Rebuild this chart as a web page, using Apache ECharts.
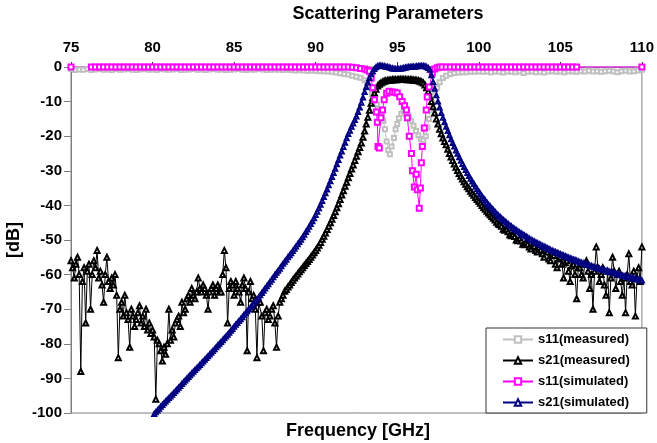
<!DOCTYPE html>
<html>
<head>
<meta charset="utf-8">
<script src="https://cdn.jsdelivr.net/npm/echarts@6/dist/echarts.min.js"></script>
<style>
  html, body { margin: 0; padding: 0; background: #fff; }
  #chart { width: 657px; height: 443px; }
</style>
</head>
<body>
<div id="chart"></div>
<script>
// axis ticks
const xTicks = [75, 80, 85, 90, 95, 100, 105, 110]
const yTicks = [-100, -90, -80, -70, -60, -50, -40, -30, -20, -10, 0]

// s11 measured: flat part 75..90.75 every 0.25 GHz, passband points, flat part 98.75..110
const s11MeasLeftStart = 75
const s11MeasLeftDb = [
  -0.6, -0.9, -0.7, -0.8, -0.6, -0.9, -0.7, -0.6, -0.8, -0.7,
  -0.9, -0.6, -0.8, -0.7, -0.6, -0.8, -0.9, -0.7, -0.6, -0.8,
  -0.7, -0.9, -0.6, -0.7, -0.8, -0.7, -0.6, -0.9, -0.8, -0.7,
  -0.6, -0.8, -0.7, -0.9, -0.7, -0.6, -0.8, -0.7, -0.9, -0.8,
  -0.7, -0.6, -0.8, -0.9, -0.7, -0.8, -0.6, -0.7, -0.9, -0.8,
  -0.7, -0.8, -0.9, -0.8, -0.9, -1.0, -0.9, -1.0, -1.1, -1.0,
  -1.1, -1.2, -1.2, -1.3
]
const s11MeasBandFreq = [
  91.0, 91.25, 91.5, 91.75, 92.0, 92.25, 92.5, 92.75, 93.0, 93.15,
  93.3, 93.45, 93.6, 93.75, 93.9, 94.05, 94.15, 94.25, 94.35, 94.45,
  94.55, 94.65, 94.8, 94.9, 95.0, 95.1, 95.25, 95.4, 95.55, 95.7,
  95.85, 96.0, 96.15, 96.3, 96.45, 96.6, 96.75, 96.85, 96.95, 97.05,
  97.15, 97.3, 97.45, 97.6, 97.8, 98.0, 98.25, 98.5
]
const s11MeasBandDb = [
  -1.4, -1.6, -1.8, -2.0, -2.2, -2.5, -2.8, -3.1, -3.8, -4.6,
  -6, -7.8, -9.2, -10.8, -12.2, -13.9, -15.5, -18, -21.5, -24,
  -25.2, -23, -20.5, -18, -16.5, -14.8, -13.5, -12.8, -13, -14,
  -15.5, -17, -18.5, -19.8, -20.8, -21.2, -20, -17.5, -15, -12.5,
  -10.5, -8, -6, -4.4, -3.2, -2.5, -2.0, -1.7
]
const s11MeasRightStart = 98.75
const s11MeasRightDb = [
  -1.6, -1.5, -1.5, -1.4, -1.4, -1.3, -1.4, -1.3, -1.5, -1.3,
  -1.4, -1.6, -1.3, -1.4, -1.5, -1.3, -1.7, -1.4, -1.3, -1.5,
  -1.4, -1.6, -1.3, -1.2, -1.4, -1.3, -1.5, -1.2, -1.3, -1.4,
  -1.2, -1.3, -1.1, -1.3, -1.2, -1.4, -1.2, -1.1, -1.3, -1.5,
  -1.2, -1.1, -1.3, -1.2, -1.0, -0.8
]
const flatStep = 0.25

// s21 measured: 75..110 every 0.1 GHz (one row per GHz)
const s21MeasStart = 75
const s21MeasStep = 0.1
const s21MeasDb = [
  -56, -58, -61, -57, -55, -60, -88, -62, -58, -74,
  -59, -57, -70, -60, -56, -58, -53, -61, -59, -63,
  -68, -60, -55, -62, -64, -61, -63, -60, -66, -84,
  -70, -68, -72, -66, -71, -73, -81, -70, -72, -75,
  -73, -71, -69, -74, -72, -75, -70, -76, -74, -77,
  -76, -78, -96, -79, -80, -82, -85, -81, -83, -80,
  -70, -79, -76, -78, -74, -73, -72, -75, -68, -71,
  -70, -67, -66, -68, -64, -66, -67, -65, -61, -64,
  -65, -63, -64, -66, -70, -65, -64, -63, -66, -64,
  -63, -65, -65, -60, -53, -58, -74, -64, -62, -63,
  -66, -62, -64, -65, -68, -63, -61, -64, -82, -65,
  -62, -67, -66, -70, -84, -68, -68, -72, -82, -71,
  -70, -73, -72, -70, -69, -74, -81, -72, -68, -67,
  -66, -64.8, -64.3, -63.6, -63.0, -62.3, -61.6, -61.0, -60.4, -59.8,
  -59.2, -58.6, -58.0, -57.4, -56.8, -56.2, -55.6, -55.0, -54.3, -53.7,
  -53.0, -52.3, -51.5, -50.7, -49.8, -48.9, -48.0, -47.0, -46.0, -45.0,
  -44.0, -42.9, -41.8, -40.7, -39.5, -38.3, -37.0, -35.8, -34.5, -33.3,
  -32.0, -30.8, -29.5, -28.3, -27.0, -25.8, -24.5, -23.3, -22.0, -20.3,
  -18.5, -16.5, -14.5, -12.5, -10.5, -8.9, -7.5, -6.4, -5.5, -5.0,
  -4.6, -4.3, -4.1, -4.0, -3.9, -3.8, -3.8, -3.7, -3.7, -3.7,
  -3.7, -3.6, -3.6, -3.6, -3.6, -3.6, -3.7, -3.7, -3.7, -3.7,
  -3.8, -3.8, -3.9, -4.0, -4.1, -4.3, -4.6, -5.2, -6.0, -7.1,
  -8.5, -10.0, -11.5, -13.3, -15.0, -16.5, -18.0, -19.3, -20.5, -21.5,
  -22.5, -23.8, -25.0, -26.0, -27.0, -28.0, -29.0, -29.9, -30.8, -31.6,
  -32.4, -33.2, -33.9, -34.6, -35.2, -35.9, -36.5, -37.1, -37.7, -38.3,
  -38.8, -39.4, -40.0, -40.6, -41.1, -41.7, -42.2, -42.7, -43.2, -43.7,
  -44.2, -44.9, -45.4, -45.6, -46.0, -46.9, -47.2, -47.0, -47.6, -48.5,
  -48.8, -48.4, -49.0, -50.0, -50.2, -49.6, -50.3, -51.2, -51.4, -50.8,
  -51.2, -52.0, -52.6, -51.5, -51.8, -53.0, -53.5, -52.2, -52.8, -54.0,
  -55, -53, -53.5, -55.5, -56, -54, -54.5, -57, -58, -55.5,
  -55, -57, -61, -56.5, -56, -59, -62, -57.5, -57, -60,
  -67, -58, -58, -60, -61, -57, -56, -59, -64, -60,
  -70, -59, -52, -58, -62, -60, -58, -63, -66, -59,
  -71, -61, -55, -59, -64, -60, -59, -62, -66, -61,
  -71, -60, -54, -62, -63, -59, -72, -61, -58, -62,
  -52
]

// s11 simulated: end points, flat 76.25..93 and 97.75..106 every 0.25 GHz, passband points
const s11SimEdgeFreq = [75, 110]
const s11SimEdgeDb = [0, 0]
const s11SimLeftStart = 76.25
const s11SimLeftDb = [
  0, 0, 0, 0, 0, 0, 0, 0, 0, 0,
  0, 0, 0, 0, 0, 0, 0, 0, 0, 0,
  0, 0, 0, 0, 0, 0, 0, 0, 0, 0,
  0, 0, 0, 0, 0, 0, 0, 0, 0, 0,
  0, 0, 0, 0, 0, 0, 0, 0, 0, 0,
  0, 0, 0, 0, 0, 0, 0, 0, 0, 0,
  0, 0, 0, 0, -0.1, -0.2, -0.4, -0.6
]
const s11SimBandFreq = [
  93.15, 93.3, 93.4, 93.5, 93.6, 93.72, 93.78, 93.82, 93.9, 94.0,
  94.1, 94.2, 94.35, 94.5, 94.7, 94.85, 95.0, 95.15, 95.3, 95.45,
  95.56, 95.62, 95.74, 95.87, 95.93, 96.05, 96.17, 96.23, 96.35, 96.42,
  96.48, 96.54, 96.66, 96.78, 96.84, 96.97, 97.15, 97.3, 97.45, 97.6
]
const s11SimBandDb = [
  -0.9, -1.2, -3.2, -6, -9.5, -13, -16, -23, -23.4, -14.7,
  -12.4, -9.5, -7.6, -7.0, -7.2, -7.3, -7.5, -8.6, -10, -11.2,
  -12.4, -14.7, -20, -25, -30, -34.7, -31, -35.5, -40.8, -35,
  -27.7, -23, -17.6, -12.4, -8.7, -5.8, -1.8, -0.6, -0.2, 0
]
const s11SimRightStart = 97.75
const s11SimRightDb = [
  0, 0, 0, 0, 0, 0, 0, 0, 0, 0,
  0, 0, 0, 0, 0, 0, 0, 0, 0, 0,
  0, 0, 0, 0, 0, 0, 0, 0, 0, 0,
  0, 0, 0, 0
]

// s21 simulated: 80.1..110 every 0.1 GHz
const s21SimStart = 80.1
const s21SimStep = 0.1
const s21SimDb = [
  -100.3, -99.8, -99.3, -98.8, -98.2, -97.7, -97.2, -96.7, -96.2, -95.7,
  -95.2, -94.7, -94.2, -93.7, -93.2, -92.7, -92.2, -91.6, -91.1, -90.6,
  -90.1, -89.6, -89.1, -88.6, -88.1, -87.6, -87.1, -86.6, -86.1, -85.6,
  -85.1, -84.6, -84.1, -83.6, -83.1, -82.6, -82.1, -81.6, -81.0, -80.5,
  -80.0, -79.5, -79.0, -78.4, -77.9, -77.4, -76.8, -76.2, -75.7, -75.1,
  -74.5, -74.0, -73.4, -72.9, -72.3, -71.7, -71.2, -70.6, -70.1, -69.5,
  -68.9, -68.4, -67.8, -67.2, -66.6, -66.0, -65.3, -64.7, -64.0, -63.4,
  -62.8, -62.1, -61.5, -60.8, -60.1, -59.5, -58.9, -58.3, -57.6, -56.9,
  -56.3, -55.7, -55.0, -54.4, -53.8, -53.2, -52.5, -51.9, -51.2, -50.6,
  -49.9, -49.2, -48.5, -47.7, -47.0, -46.2, -45.4, -44.6, -43.7, -42.8,
  -41.8, -40.8, -39.8, -38.7, -37.6, -36.5, -35.4, -34.2, -33.0, -31.8,
  -30.6, -29.4, -28.1, -26.9, -25.6, -24.4, -23.1, -21.9, -20.6, -19.4,
  -18.4, -17.3, -16.3, -15.3, -14.3, -13.0, -11.7, -10.3, -8.8, -7.2,
  -5.8, -4.5, -3.2, -2.1, -1.3, -0.6, -0.1, 0.2, 0.4, 0.4,
  0.3, 0.2, 0.1, 0, -0.1, -0.3, -0.4, -0.5, -0.6, -0.6,
  -0.6, -0.5, -0.4, -0.3, -0.2, -0.1, 0, 0, 0.1, 0.1,
  0.1, 0.2, 0.2, 0.3, 0.3, 0.3, 0.2, 0, -0.3, -0.8,
  -2.4, -4.3, -6.3, -8.2, -10.0, -11.7, -13.3, -14.7, -16.0, -17.3,
  -18.5, -19.7, -20.9, -22.0, -23.0, -24.1, -25.1, -26.1, -27.1, -28.0,
  -28.9, -29.8, -30.6, -31.5, -32.3, -33.1, -33.8, -34.6, -35.3, -36.0,
  -36.7, -37.4, -38.0, -38.6, -39.2, -39.8, -40.3, -40.9, -41.4, -41.9,
  -42.4, -42.9, -43.3, -43.8, -44.2, -44.6, -45.0, -45.4, -45.8, -46.1,
  -46.5, -46.8, -47.2, -47.5, -47.8, -48.1, -48.4, -48.7, -49.0, -49.3,
  -49.6, -49.9, -50.2, -50.4, -50.7, -50.9, -51.2, -51.4, -51.7, -51.9,
  -52.1, -52.4, -52.6, -52.9, -53.1, -53.3, -53.5, -53.7, -53.9, -54.1,
  -54.3, -54.5, -54.7, -54.9, -55.1, -55.3, -55.5, -55.7, -55.8, -56.0,
  -56.2, -56.4, -56.6, -56.7, -56.9, -57.1, -57.2, -57.4, -57.5, -57.7,
  -57.9, -58.0, -58.2, -58.3, -58.5, -58.6, -58.7, -58.9, -59.0, -59.2,
  -59.3, -59.4, -59.6, -59.7, -59.9, -60.0, -60.1, -60.3, -60.4, -60.5,
  -60.6, -60.7, -60.9, -61.0, -61.1, -61.2, -61.3, -61.5, -61.6, -61.7
]

const FONT = 'Arial, "Liberation Sans", sans-serif'
const AXIS_COLOR = '#808080'

// frequency grid for the evenly swept parts
function sweep (start, step, count) {
  const out = []
  for (let i = 0; i < count; i++) {
    out.push(+(start + i * step).toFixed(3))
  }
  return out
}
function pairs (freq, db) {
  return freq.map((f, i) => [f, db[i]])
}

const s11Meas = [].concat(
  pairs(sweep(s11MeasLeftStart, flatStep, s11MeasLeftDb.length), s11MeasLeftDb),
  pairs(s11MeasBandFreq, s11MeasBandDb),
  pairs(sweep(s11MeasRightStart, flatStep, s11MeasRightDb.length), s11MeasRightDb)
)
const s21Meas = pairs(sweep(s21MeasStart, s21MeasStep, s21MeasDb.length), s21MeasDb)
const s11Sim = [].concat(
  [[s11SimEdgeFreq[0], s11SimEdgeDb[0]]],
  pairs(sweep(s11SimLeftStart, flatStep, s11SimLeftDb.length), s11SimLeftDb),
  pairs(s11SimBandFreq, s11SimBandDb),
  pairs(sweep(s11SimRightStart, flatStep, s11SimRightDb.length), s11SimRightDb),
  [[s11SimEdgeFreq[1], s11SimEdgeDb[1]]]
)
const s21Sim = pairs(sweep(s21SimStart, s21SimStep, s21SimDb.length), s21SimDb)

function lineSeries (name, data, color, symbol, size) {
  return {
    name,
    type: 'line',
    data,
    symbol,
    symbolSize: size,
    showAllSymbol: true,
    clip: false,
    itemStyle: { color, borderWidth: 1 },
    lineStyle: { color, width: 1 },
    emphasis: { disabled: true }
  }
}

const chart = echarts.init(document.getElementById('chart'), null, { renderer: 'canvas' })
chart.setOption({
  animation: false,
  backgroundColor: '#fff',
  grid: {
    left: 71,
    right: 14,
    top: 67,
    bottom: 30,
    show: true,
    borderColor: AXIS_COLOR,
    borderWidth: 1
  },
  graphic: [
    {
      type: 'text', x: 388, y: 14,
      style: { text: 'Scattering Parameters', font: 'bold 18px ' + FONT, fill: '#000', textAlign: 'center', textVerticalAlign: 'middle' }
    },
    {
      type: 'text', x: 358, y: 431,
      style: { text: 'Frequency [GHz]', font: 'bold 18px ' + FONT, fill: '#000', textAlign: 'center', textVerticalAlign: 'middle' }
    },
    {
      type: 'text', x: 14, y: 240, rotation: Math.PI / 2,
      style: { text: '[dB]', font: 'bold 18px ' + FONT, fill: '#000', textAlign: 'center', textVerticalAlign: 'middle' }
    }
  ],
  legend: {
    orient: 'vertical',
    left: 486,
    top: 328,
    padding: [5, 17, 4, 16],
    itemGap: 8,
    itemWidth: 30,
    itemHeight: 8,
    backgroundColor: '#fff',
    borderColor: '#333',
    borderWidth: 1,
    textStyle: { fontFamily: FONT, fontWeight: 'bold', fontSize: 13, color: '#000' },
    data: ['s11(measured)', 's21(measured)', 's11(simulated)', 's21(simulated)']
  },
  xAxis: [
    {
      type: 'value',
      position: 'top',
      min: xTicks[0],
      max: xTicks[xTicks.length - 1],
      interval: xTicks[1] - xTicks[0],
      axisLine: { show: true, onZero: false, lineStyle: { color: AXIS_COLOR } },
      axisTick: { show: true, length: 5, lineStyle: { color: '#333' } },
      axisLabel: { margin: 12, color: '#000', fontFamily: FONT, fontWeight: 'bold', fontSize: 15 },
      splitLine: { show: false }
    },
    {
      type: 'value',
      position: 'top',
      min: xTicks[0],
      max: xTicks[xTicks.length - 1],
      interval: xTicks[1] - xTicks[0],
      axisLine: { show: false },
      axisTick: { show: true, inside: true, length: 5, lineStyle: { color: '#333' } },
      axisLabel: { show: false },
      splitLine: { show: false }
    }
  ],
  yAxis: {
    type: 'value',
    min: yTicks[0],
    max: yTicks[yTicks.length - 1],
    interval: yTicks[1] - yTicks[0],
    axisLine: { show: true, onZero: false, lineStyle: { color: AXIS_COLOR } },
    axisTick: { show: true, length: 7, lineStyle: { color: AXIS_COLOR } },
    axisLabel: { margin: 9, color: '#000', fontFamily: FONT, fontWeight: 'bold', fontSize: 15 },
    splitLine: { show: false }
  },
  series: [
    lineSeries('s11(measured)', s11Meas, '#c0c0c0', 'emptyRect', 4),
    lineSeries('s21(measured)', s21Meas, '#000000', 'emptyTriangle', 5),
    lineSeries('s11(simulated)', s11Sim, '#ff00ff', 'emptyRect', 5),
    lineSeries('s21(simulated)', s21Sim, '#000080', 'emptyTriangle', 4)
  ]
})
</script>
</body>
</html>
